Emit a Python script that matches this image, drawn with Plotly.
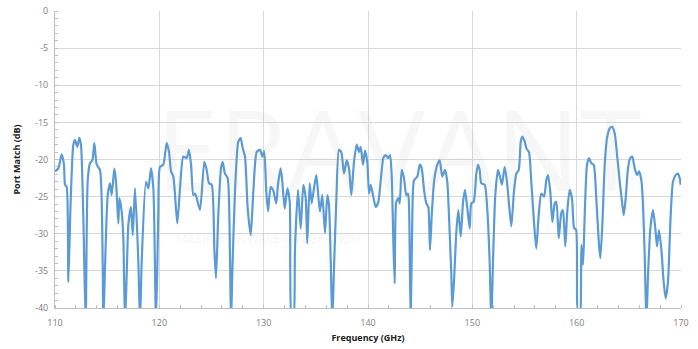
import plotly.graph_objects as go

# Frequency sweep (GHz) and measured port match (dB)
freq_ghz = [
    110.0, 110.32, 110.64, 110.86, 110.96, 111.12, 111.28, 111.5, 111.76, 111.92,
    112.14, 112.33, 112.49, 112.71, 112.94, 113.13, 113.35, 113.58, 113.77, 114.0,
    114.31, 114.57, 114.63, 114.79, 115.05, 115.27, 115.43, 115.69, 115.85, 116.07,
    116.17, 116.39, 116.55, 116.71, 116.87, 117.03, 117.28, 117.45, 117.67, 117.99,
    118.15, 118.31, 118.72, 118.95, 119.2, 119.43, 119.68, 119.9, 120.06, 120.38,
    120.7, 120.93, 121.12, 121.34, 121.72, 121.98, 122.3, 122.62, 122.84, 123.04,
    123.26, 123.42, 123.58, 123.9, 124.31, 124.54, 124.76, 125.02, 125.27, 125.43,
    125.65, 125.91, 126.07, 126.29, 126.55, 126.77, 126.87, 127.0, 127.25, 127.57,
    127.8, 127.99, 128.21, 128.47, 128.76, 129.01, 129.33, 129.65, 129.87, 130.05,
    130.25, 130.42, 130.67, 130.9, 131.21, 131.37, 131.63, 131.79, 132.02, 132.27,
    132.5, 132.69, 132.84, 133.0, 133.29, 133.55, 133.8, 134.03, 134.18, 134.41,
    134.6, 134.82, 135.05, 135.24, 135.4, 135.62, 135.88, 136.1, 136.26, 136.43,
    136.58, 136.74, 136.96, 137.22, 137.44, 137.7, 137.96, 138.18, 138.4, 138.66,
    138.92, 139.14, 139.3, 139.52, 139.71, 139.93, 140.1, 140.26, 140.48, 140.74,
    140.99, 141.22, 141.47, 141.7, 141.92, 142.11, 142.27, 142.43, 142.56, 142.71,
    142.91, 143.04, 143.23, 143.45, 143.67, 143.84, 143.93, 144.09, 144.25, 144.41,
    144.73, 144.96, 145.15, 145.37, 145.59, 145.78, 145.94, 146.11, 146.33, 146.64,
    146.87, 147.12, 147.38, 147.6, 147.76, 147.99, 148.08, 148.24, 148.47, 148.66,
    148.89, 149.11, 149.3, 149.52, 149.75, 149.9, 150.13, 150.38, 150.54, 150.7,
    150.86, 151.18, 151.43, 151.66, 151.82, 151.98, 152.2, 152.46, 152.68, 152.84,
    153.1, 153.32, 153.58, 153.74, 153.99, 154.22, 154.45, 154.64, 154.79, 155.02,
    155.18, 155.43, 155.65, 155.91, 156.13, 156.36, 156.61, 156.87, 157.09, 157.25,
    157.47, 157.67, 157.9, 158.05, 158.28, 158.53, 158.69, 158.91, 159.1, 159.33,
    159.55, 159.75, 159.95, 160.13, 160.29, 160.45, 160.61, 160.77, 160.99, 161.18,
    161.4, 161.63, 161.88, 162.14, 162.27, 162.46, 162.69, 162.91, 163.17, 163.39,
    163.65, 163.9, 164.13, 164.38, 164.51, 164.7, 164.92, 165.14, 165.33, 165.56,
    165.78, 165.98, 166.2, 166.36, 166.52, 166.68, 166.84, 167.06, 167.32, 167.54,
    167.7, 167.89, 168.11, 168.34, 168.53, 168.75, 169.01, 169.23, 169.49, 169.71,
    169.87, 169.97,
]

port_match_db = [
    -21.6, -21.2, -19.3, -20.7, -23.4, -23.7, -36.5, -25.7, -18.0, -17.4,
    -18.3, -17.1, -18.0, -27.5, -42.0, -23.0, -20.5, -20.1, -17.8, -20.7,
    -21.4, -33.8, -42.0, -34.7, -24.8, -23.2, -24.8, -21.2, -23.0, -28.6,
    -25.2, -27.0, -30.6, -42.0, -35.6, -28.8, -26.4, -30.2, -23.9, -33.8,
    -42.0, -33.8, -23.0, -23.9, -21.2, -23.9, -42.0, -27.5, -21.0, -20.7,
    -17.8, -19.0, -21.6, -22.3, -28.6, -23.9, -19.6, -19.8, -18.7, -20.7,
    -24.8, -24.6, -25.2, -26.8, -20.3, -21.4, -23.2, -23.4, -32.0, -36.0,
    -27.5, -21.2, -20.3, -21.9, -22.5, -32.9, -42.0, -35.1, -24.3, -17.6,
    -17.1, -18.5, -19.6, -26.6, -30.2, -24.3, -19.0, -18.7, -19.6, -18.9,
    -24.3, -27.0, -23.7, -24.1, -25.9, -23.4, -21.2, -23.0, -26.6, -23.9,
    -25.7, -42.0, -42.0, -32.0, -24.1, -29.3, -23.4, -25.2, -31.3, -23.2,
    -25.9, -23.9, -22.1, -25.0, -27.0, -24.8, -29.9, -24.8, -26.1, -33.8,
    -42.0, -34.7, -25.7, -18.7, -19.0, -21.9, -20.1, -21.2, -24.8, -20.3,
    -18.0, -19.0, -18.3, -20.7, -18.8, -20.3, -24.6, -23.4, -24.8, -26.4,
    -25.7, -22.8, -19.8, -19.4, -19.8, -19.4, -22.1, -31.1, -36.7, -25.7,
    -25.2, -25.9, -21.4, -22.5, -24.8, -24.6, -26.1, -42.0, -27.5, -22.8,
    -22.3, -20.7, -21.2, -24.1, -25.9, -26.4, -32.2, -27.5, -23.0, -20.7,
    -20.1, -22.3, -21.4, -23.0, -27.5, -35.6, -39.8, -36.5, -29.7, -26.8,
    -30.4, -25.7, -24.1, -26.6, -29.3, -25.9, -25.7, -21.9, -20.7, -21.4,
    -23.2, -23.4, -26.6, -33.8, -42.0, -33.8, -24.8, -21.4, -22.5, -23.4,
    -21.0, -23.0, -27.0, -29.0, -24.3, -21.9, -21.4, -17.6, -16.9, -17.6,
    -18.5, -19.0, -23.0, -28.4, -32.0, -27.5, -24.6, -25.0, -22.8, -22.1,
    -24.3, -28.4, -25.9, -25.7, -30.6, -27.2, -26.8, -31.7, -27.0, -24.1,
    -25.2, -29.2, -29.5, -42.0, -42.0, -31.5, -34.2, -27.5, -20.7, -19.8,
    -20.5, -20.7, -25.2, -31.5, -33.3, -28.8, -20.7, -17.1, -15.8, -15.6,
    -16.5, -19.8, -23.0, -26.1, -27.5, -25.2, -21.2, -19.8, -19.6, -21.2,
    -22.1, -21.6, -22.8, -26.1, -32.9, -42.0, -35.6, -29.3, -26.8, -29.3,
    -31.7, -29.5, -32.0, -36.5, -38.7, -36.5, -27.5, -23.0, -22.1, -21.9,
    -22.5, -23.4,
]

x_ticks = [110, 120, 130, 140, 150, 160, 170]
y_ticks = [0, -5, -10, -15, -20, -25, -30, -35, -40]

grid = "#d9d9d9"
tick_grey = "#808080"

fig = go.Figure()
fig.add_trace(go.Scatter(
    x=freq_ghz, y=port_match_db, mode="lines",
    line=dict(color="#5b9bd5", width=2.2, shape="spline", smoothing=0.6),
    hoverinfo="skip", showlegend=False,
))

# Faint brand watermark across the plot area
fig.add_annotation(
    x=0.55, y=0.54, xref="paper", yref="paper", text="ERAVANT", showarrow=False,
    font=dict(family="Open Sans", size=112, color="rgba(150,150,150,0.08)"),
)
fig.add_annotation(
    x=0.19, y=0.20, xref="paper", yref="paper", text="MILLIMETER WAVE INTEGRATION",
    showarrow=False, font=dict(family="Open Sans", size=12, color="rgba(150,150,150,0.12)"),
)

axis_common = dict(
    showgrid=True, gridcolor=grid, gridwidth=1, zeroline=False, automargin=False,
    showline=True, linecolor="#bfbfbf", linewidth=1, ticks="",
    tickfont=dict(family="Open Sans", size=9, color=tick_grey),
)

fig.update_layout(
    width=698, height=349,
    margin=dict(l=55, r=17, t=11, b=41),
    paper_bgcolor="white", plot_bgcolor="white",
    xaxis=dict(
        range=[110, 170], tickvals=x_ticks, ticktext=[str(v) for v in x_ticks],
        ticklabelstandoff=6,
        minor=dict(ticks="inside", ticklen=3, dtick=2, tickcolor="#bfbfbf", showgrid=False),
        title=dict(text="<b>Frequency (GHz)</b>", standoff=6,
                   font=dict(family="Open Sans", size=9, color="#222222")),
        **axis_common,
    ),
    yaxis=dict(
        range=[-40, 0], tickvals=y_ticks, ticktext=[str(v) for v in y_ticks],
        ticklabelstandoff=4,
        minor=dict(ticks="inside", ticklen=3, dtick=1, tickcolor="#bfbfbf", showgrid=False),
        title=dict(text="<b>Port Match (dB)</b>", standoff=12,
                   font=dict(family="Open Sans", size=9, color="#222222")),
        **axis_common,
    ),
)

fig.write_html("out.html")
